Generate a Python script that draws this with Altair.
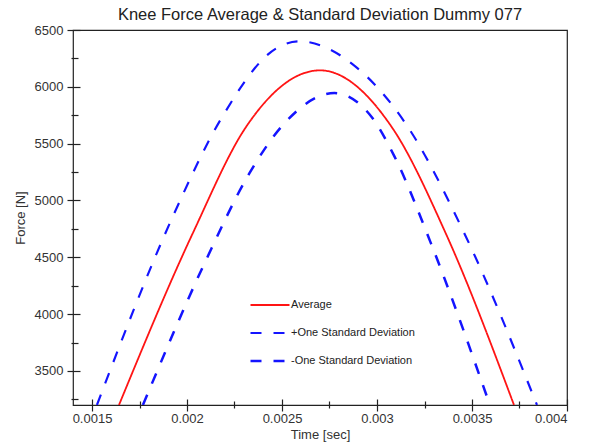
import altair as alt
import pandas as pd

FONT = "Liberation Sans"

series_names = ["Average", "+One Standard Deviation", "-One Standard Deviation"]
series_colors = ["#ff1414", "#1414ff", "#1414ff"]

avg_time = [0.001642, 0.00203, 0.002312, 0.0027, 0.00308, 0.003362, 0.003721]
avg_force = [3200, 4710, 5650, 6145, 5640, 4710, 3200]

plus_time = [0.001526, 0.001925, 0.002181, 0.00247, 0.00259, 0.002907, 0.003144,
             0.003468, 0.003842]
plus_force = [3200, 4857, 5723, 6339, 6400, 6150, 5693, 4681, 3200]

minus_time = [0.001768, 0.0021, 0.002328, 0.002505, 0.002776, 0.002977,
              0.003091, 0.003284, 0.003594]
minus_force = [3200, 4475, 5238, 5664, 5945, 5723, 5390, 4622, 3200]

x_major = [0.0015, 0.002, 0.0025, 0.003, 0.0035, 0.004]
x_minor = [0.00175, 0.00225, 0.00275, 0.00325, 0.00375]
y_major = [3500, 4000, 4500, 5000, 5500, 6000, 6500]
y_minor = [3250, 3750, 4250, 4750, 5250, 5750, 6250]

rows = []
for name, ts, fs in [(series_names[0], avg_time, avg_force),
                     (series_names[1], plus_time, plus_force),
                     (series_names[2], minus_time, minus_force)]:
    for t, f in zip(ts, fs):
        rows.append({"time": t, "force": f, "series": name})
df = pd.DataFrame(rows)

xscale = alt.Scale(domain=[0.0014, 0.004], nice=False, zero=False)
yscale = alt.Scale(domain=[3200, 6500], nice=False, zero=False)

legend = alt.Legend(
    title=None, orient="none", legendX=176, legendY=269,
    symbolType="stroke", symbolSize=1521, symbolStrokeWidth=2,
    labelFont=FONT, labelFontSize=11, labelColor="#222",
    clipHeight=12, rowPadding=16, labelOffset=0, padding=0, symbolOffset=0,
)

lines = alt.Chart(df).mark_line(interpolate="monotone", clip=True).encode(
    x=alt.X("time:Q", scale=xscale,
            axis=alt.Axis(values=x_major, format="~g", title="Time [sec]", orient="bottom",
                          offset=-6, tickSize=12, domain=False, grid=False,
                          labelPadding=1, titlePadding=3)),
    y=alt.Y("force:Q", scale=yscale,
            axis=alt.Axis(values=y_major, format="d", title="Force [N]", orient="left",
                          offset=-7, tickSize=13, domain=False, grid=False,
                          labelPadding=4, titlePadding=7)),
    color=alt.Color("series:N", scale=alt.Scale(domain=series_names, range=series_colors),
                    legend=legend),
    strokeDash=alt.StrokeDash("series:N",
                              scale=alt.Scale(domain=series_names,
                                              range=[[1, 0], [11, 12], [11, 12]]),
                              legend=legend),
    strokeWidth=alt.StrokeWidth("series:N",
                                scale=alt.Scale(domain=series_names, range=[1.8, 2.5, 2.5]),
                                legend=None),
)

minor = alt.Chart(df).mark_point(opacity=0).encode(
    x=alt.X("time:Q", scale=xscale,
            axis=alt.Axis(values=x_minor, labels=False, title=None, orient="bottom",
                          offset=-4, tickSize=7, domain=False, grid=False)),
    y=alt.Y("force:Q", scale=yscale,
            axis=alt.Axis(values=y_minor, labels=False, title=None, orient="left",
                          offset=-5, tickSize=7, domain=False, grid=False)),
)

chart = alt.layer(lines, minor).resolve_axis(
    x="independent", y="independent"
).properties(
    width=494, height=375,
    autosize="none",
    padding={"left": 73, "top": 30, "right": 24, "bottom": 40},
    title=alt.TitleParams("Knee Force Average & Standard Deviation Dummy 077",
                          font=FONT, fontSize=16.5, fontWeight="normal", color="#222",
                          offset=1, anchor="middle"),
).configure_view(
    stroke="#222", strokeWidth=1.2
).configure_axis(
    labelFont=FONT, labelFontSize=13, labelColor="#333",
    titleFont=FONT, titleFontSize=13, titleColor="#333", titleFontWeight="normal",
    tickColor="#222", tickWidth=1.2,
)

chart.save("out.html", embed_options={"renderer": "svg", "actions": False})
